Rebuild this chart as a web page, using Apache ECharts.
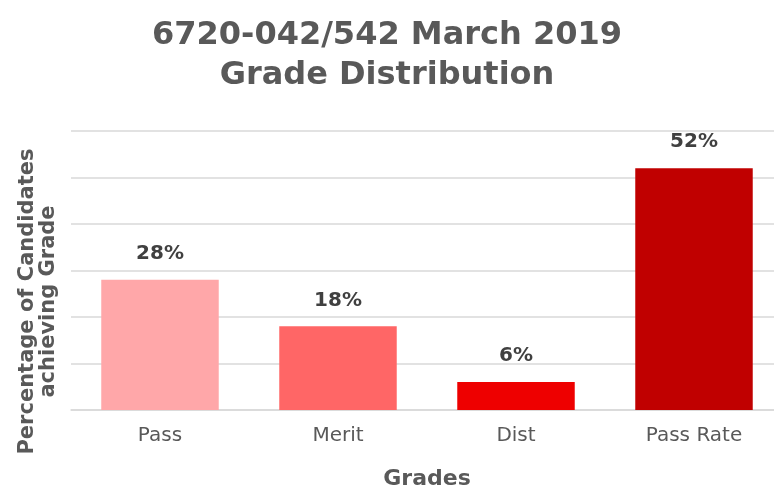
<!DOCTYPE html>
<html>
<head>
<meta charset="utf-8">
<script src="https://cdn.jsdelivr.net/npm/echarts@6/dist/echarts.min.js"></script>
<style>
  html, body { margin: 0; padding: 0; background: #fff; }
  #chart { width: 774px; height: 489px; }
</style>
</head>
<body>
<div id="chart"></div>
<script>
(function () {
  var categories = ['Pass', 'Merit', 'Dist', 'Pass Rate'];
  var values = [28, 18, 6, 52];
  var barColors = ['#FFA7A9', '#FF6666', '#EE0000', '#C00000'];

  var myChart = echarts.init(document.getElementById('chart'));

  var data = values.map(function (v, i) {
    return { value: v, itemStyle: { color: barColors[i] } };
  });

  myChart.setOption({
    animation: false,
    textStyle: { fontFamily: 'DejaVu Sans' },
    title: {
      text: '6720-042/542 March 2019\nGrade Distribution',
      left: 'center',
      top: 11,
      textStyle: {
        color: '#595959',
        fontSize: 32,
        fontWeight: 'bold',
        lineHeight: 40,
        fontFamily: 'DejaVu Sans'
      }
    },
    grid: {
      left: 71,
      right: -9,
      top: 131,
      bottom: 79,
      outerBoundsMode: 'none',
      containLabel: false
    },
    xAxis: {
      type: 'category',
      data: categories,
      name: 'Grades',
      nameLocation: 'middle',
      nameGap: 58,
      nameTextStyle: { color: '#595959', fontSize: 22, fontWeight: 'bold' },
      axisLine: { show: true, lineStyle: { color: '#d9d9d9', width: 1.5 } },
      axisTick: { show: false },
      axisLabel: { color: '#595959', fontSize: 20, margin: 16 }
    },
    yAxis: {
      type: 'value',
      min: 0,
      max: 60,
      interval: 10,
      name: 'Percentage of Candidates\nachieving Grade',
      nameLocation: 'middle',
      nameGap: 12,
      nameRotate: 90,
      nameTextStyle: {
        color: '#595959',
        fontSize: 21,
        fontWeight: 'bold',
        lineHeight: 21,
        padding: [0, 62, 0, 0]
      },
      axisLine: { show: false },
      axisTick: { show: false },
      axisLabel: { show: false },
      splitLine: { lineStyle: { color: '#d9d9d9', width: 1.5 } }
    },
    series: [{
      type: 'bar',
      data: data,
      barWidth: '66%',
      label: {
        show: true,
        position: 'top',
        distance: 16,
        formatter: '{c}%',
        color: '#404040',
        fontSize: 20,
        fontWeight: 'bold'
      }
    }]
  });

  window.addEventListener('resize', function () {
    myChart.resize();
  });
})();
</script>
</body>
</html>
